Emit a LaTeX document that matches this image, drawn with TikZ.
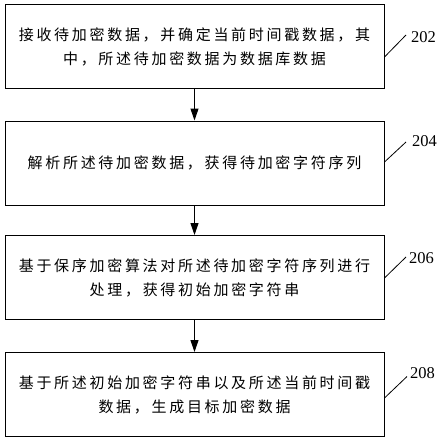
\documentclass[tikz,border=0pt]{standalone}
\usepackage{fontspec}
\setmainfont{Liberation Serif}
\newfontfamily\cjk[LetterSpace=18]{Noto Sans CJK SC}
\usetikzlibrary{arrows.meta}

\tikzset{
  stepbox/.style={draw, line width=1pt, minimum width=379pt, minimum height=84pt,
    inner sep=0pt, align=center, font=\cjk\fontsize{15}{24}\selectfont},
  flow/.style={-{Triangle[length=12pt,width=8pt]}, line width=1pt},
  tag/.style={font=\fontsize{16.5}{18}\selectfont, anchor=west, inner sep=0pt},
  lead/.style={line width=0.8pt},
}

\begin{document}
\begin{tikzpicture}[x=1pt,y=-1pt]
    \useasboundingbox (0,0) rectangle (444,442);
    % steps
    \node[stepbox] (s1) at (194.5,46.5) {接收待加密数据，并确定当前时间戳数据，其\\中，所述待加密数据为数据库数据};
    \node[stepbox] (s2) at (194.5,163) {解析所述待加密数据，获得待加密字符序列};
    \node[stepbox] (s3) at (194.5,277.5) {基于保序加密算法对所述待加密字符序列进行\\处理，获得初始加密字符串};
    \node[stepbox] (s4) at (194.5,394.5) {基于所述初始加密字符串以及所述当前时间戳\\数据，生成目标加密数据};
    \draw[flow] (s1) -- (s2);
    \draw[flow] (s2) -- (s3);
    \draw[flow] (s3) -- (s4);
    % step numbers
    \node[tag] (t1) at (411,37) {202};
    \node[tag] (t2) at (412,141) {204};
    \node[tag] (t3) at (409,258) {206};
    \node[tag] (t4) at (410,373.5) {208};
    \draw[lead] ([yshift=-10.5pt]s1.east) -- ([xshift=-5pt,yshift=2pt]t1.west);
    \draw[lead] ([yshift=1pt]s2.east) -- ([xshift=-6pt,yshift=-1pt]t2.west);
    \draw[lead] ([yshift=-0.5pt]s3.east) -- ([xshift=-3pt,yshift=1pt]t3.west);
    \draw[lead] ([yshift=-3.5pt]s4.east) -- ([xshift=-3pt,yshift=-3pt]t4.west);
\end{tikzpicture}
\end{document}
